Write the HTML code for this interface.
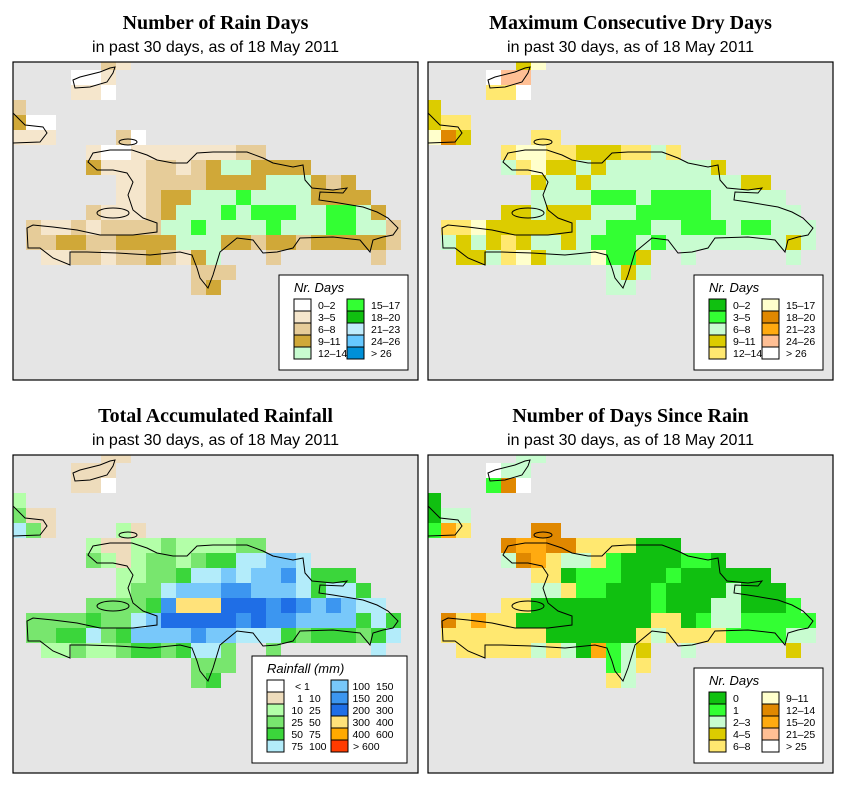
<!DOCTYPE html>
<html><head><meta charset="utf-8"><style>
html,body{margin:0;padding:0;background:#fff;}
svg{display:block;}
.t{font-family:"Liberation Serif",serif;font-weight:bold;font-size:20px;text-anchor:middle;}
.s{font-family:"Liberation Sans",sans-serif;font-size:16px;text-anchor:middle;}
.lt{font-family:"Liberation Sans",sans-serif;font-style:italic;font-size:13px;}
.ll{font-family:"Liberation Sans",sans-serif;font-size:10.5px;}
</style></head><body>
<svg id="chart" width="853" height="793" viewBox="0 0 853 793" xmlns="http://www.w3.org/2000/svg">
<defs>
<path id="coast" fill="none" stroke="#000" stroke-width="1" d="M88,162 L93,153 L110,150 L132,150 L147,155 L157,160 L173,163 L187,163 L197,153 L213,152 L233,152 L247,152 L263,158 L273,163 L293,167 L303,165 L305,180 L312,188 L333,190 L347,188 L343,193 L320,192 L319,200 L333,202 L363,207 L377,212 L388,218 L398,228 L393,235 L383,237 L373,240 L370,252 L360,240 L333,237 L300,238 L293,248 L277,252 L263,253 L253,240 L237,238 L220,252 L213,275 L208,288 L200,278 L197,268 L192,255 L180,252 L150,255 L117,253 L87,252 L70,252 L70,265 L53,258 L40,248 L28,248 L27,228 L33,225 L53,227 L77,230 L100,235 L133,235 L157,232 L157,223 L143,218 L133,210 L128,195 L133,182 L127,173 L113,170 L97,170 Z M97,213 a16,5 0 1,0 32,0 a16,5 0 1,0 -32,0 Z M119,142 a9,3 0 1,0 18,0 a9,3 0 1,0 -18,0 Z M5,113 L13,113 L25,125 L43,127 L47,133 L40,142 L13,143 L5,143 M73,80 L80,77 L100,72 L110,68 L115,67 L113,73 L107,82 L90,87 L75,88 Z"/>
</defs>
</svg>
<script>
// ---- data ----
const rainDays = ["......ba","....wwa","....aaw","b","cww","aaa....bw",".....awwaaaaaaabb",".....caaabbabcddcccc",".......aabbbbccccdddcbc",".......aabccddde"+"dddd"+"cccc",".....baaabcddded"+"eeedd"+"eedc",".baababbbb"+"ddeddddedddeeddb",".bbccbbccccdddccbccbcccccb","..aabbabbcbacd...b......b","............bbb","............bc"];
const dryDays = ["......hj","....wmm","....iiw","h","hii","jkh....ii",".....ijjiihhhiidi",".....dijhhdh"+"ddddddd"+"h",".......hddh"+"dddddddddd"+"hh",".......dddd"+"ggg"+"d"+"gggg"+"ddddd",".....hhdhhhddd"+"ggggg"+"dddddd",".iij"+"hhhhhh"+"dd"+"ggg"+"dd"+"ggg"+"d"+"gg"+"ddd",".dhdhihddhd"+"ggg"+"d"+"g"+"dddddddd"+"hd","..hhdijhdddjggh"+"..d"+"......d","............dhd","............dd"];
const rainfall = ["......TT","....TTT","....TTW","L","MTT","CMT....LT",".....LTTLLMLLLLMM",".....MLTLMMLMGGCCSSC",".......LLMMGCCSCSSBCGGG",".......LMMCSSSBBSSSCGCCG",".....MMMMGBYYYDDDBDBSBSCC",".MMMMGMMCSDDDDDBDBBSSSSGCG",".MMGGCMGSSSSBSSCCCGMGGGMGC","..LLMLLMGGMGCCM..M......C","............MMM","............MG"];
const sinceRain = ["......dd","....wdd","....gkw","f","fdd","gli....kk",".....kllkkiiiifff",".....dklidd"+"ig"+"ffff"+"gg"+"f",".......iif"+"ggg"+"fff"+"g"+"ffffff",".......ddigg"+"fff"+"g"+"ffff"+"d"+"fff",".....ii"+"ffffffff"+"g"+"fff"+"dd"+"fff"+"g",".kilii"+"fffffffff"+"ii"+"f"+"g"+"dd"+"ggggg",".iiiiiii"+"ffffff"+"i"+"d"+"iiii"+"gggg"+"dd","..iiiiididflgdh"+"..d"+"......h","............gdi","............id"];
const rainDaysKeys = ["w","a","b","c","d","e","f","x","y","z"];
const rainDaysLabels = ["0–2","3–5","6–8","9–11","12–14","15–17","18–20","21–23","24–26","> 26"];
const dryKeys = ["f","g","d","h","i","j","k","l","m","w"];
const dryLabels = ["0–2","3–5","6–8","9–11","12–14","15–17","18–20","21–23","24–26","> 26"];
const rainKeys = ["W","T","L","M","G","C","S","B","D","Y","O","R"];
const rainLabels = [["< 1",""],["1","10"],["10","25"],["25","50"],["50","75"],["75","100"],["100","150"],["150","200"],["200","300"],["300","400"],["400","600"],["> 600",""]];
const sinceKeys = ["f","g","d","h","i","j","k","l","m","w"];
const sinceLabels = ["0","1","2–3","4–5","6–8","9–11","12–14","15–20","21–25","> 25"];

const pal1 = {w:"#ffffff",a:"#f5e6cc",b:"#e6cc99",c:"#d0a838",d:"#c8fcd0",e:"#33ff33",f:"#10c010",x:"#c0ecfc",y:"#66c8ff",z:"#0090d8"};
const pal2 = {f:"#10c010",g:"#33ff33",d:"#c8fcd0",h:"#dccc00",i:"#ffe870",j:"#ffffcc",k:"#e08800",l:"#ffaa10",m:"#ffbf94",w:"#ffffff"};
const pal3 = {W:"#ffffff",T:"#eedcbc",L:"#b3ffa8",M:"#78e66e",G:"#3bd63b",C:"#b3ecfa",S:"#78c8fa",B:"#3c96f0",D:"#1f6ee6",Y:"#ffe27a",O:"#ffaa00",R:"#ff3b00"};

const NS="http://www.w3.org/2000/svg";
const svg=document.getElementById('chart');
function mk(tag,attrs,parent){const e=document.createElementNS(NS,tag);for(const k in attrs)e.setAttribute(k,attrs[k]);(parent||svg).appendChild(e);return e;}

const CELL=15;
const panels=[
 {dx:0,dy:0,grid:rainDays,pal:pal1,title:"Number of Rain Days",name:"rain-days"},
 {dx:415,dy:0,grid:dryDays,pal:pal2,title:"Maximum Consecutive Dry Days",name:"dry-days"},
 {dx:0,dy:393,grid:rainfall,pal:pal3,title:"Total Accumulated Rainfall",name:"rainfall"},
 {dx:415,dy:393,grid:sinceRain,pal:pal2,title:"Number of Days Since Rain",name:"days-since-rain"}
];
function colX(p,c){return p.dx+11+CELL*c;}
function rowY(p,r){return p.dy+55+CELL*r;}

panels.forEach((p,i)=>{
  const fx=p.dx+13, fy=p.dy+62, fw=405, fh=318;
  const t=mk('text',{class:'t',x:fx+fw/2,y:p.dy+29});
  t.textContent=p.title;
  
  
  const s=mk('text',{class:'s',x:fx+fw/2,y:p.dy+52});
  s.textContent="in past 30 days, as of  18 May 2011";
  
  
  const cp=mk('clipPath',{id:'cp'+i});
  mk('rect',{x:fx,y:fy,width:fw,height:fh},cp);
  const bg=mk('rect',{x:fx,y:fy,width:fw,height:fh,fill:'#e5e5e5'});
  
  
  const g=mk('g',{'clip-path':'url(#cp'+i+')'});
  
  
  p.grid.forEach((row,r)=>{
    for(let c=0;c<row.length;c++){
      const k=row[c]; if(k==='.'||!p.pal[k]) continue;
      const cell=mk('rect',{x:colX(p,c),y:rowY(p,r),width:CELL,height:CELL,fill:p.pal[k]},g);
      
      
    }
  });
  const u=mk('use',{href:'#coast',transform:'translate('+p.dx+','+p.dy+')'},g);
  
  
  const fr=mk('rect',{x:fx,y:fy,width:fw,height:fh,fill:'none',stroke:'#000','stroke-width':1.2});
  
  
});

function legend(p,keys,labels,pal,title,box,isRain){
  const lg=mk('g',{});
  
  
  mk('rect',{x:box.x,y:box.y,width:box.w,height:box.h,fill:'#fff',stroke:'#000','stroke-width':1},lg);
  const tt=mk('text',{class:'lt',x:box.x+15,y:box.y+17},lg);
  tt.textContent=title;
  
  
  const per=keys.length/2;
  keys.forEach((k,j)=>{
    const col=Math.floor(j/per), row=j%per;
    const sx=box.x+15+col*box.cw, sy=box.y+box.top+row*12;
    const sw=mk('rect',{x:sx,y:sy,width:17,height:12,fill:pal[k],stroke:'#000','stroke-width':1},lg);
    
    
    if(isRain){
      const lab=labels[j];
      if(lab[1]===""){
        const a=mk('text',{class:'ll',x:sx+(col?22:28),y:sy+10},lg);
        a.textContent=lab[0];
        
        
      } else {
        const a=mk('text',{class:'ll',x:sx+(col?39:36),y:sy+10,'text-anchor':'end'},lg);
        a.textContent=lab[0];
        
        
        const b=mk('text',{class:'ll',x:sx+(col?45:42),y:sy+10},lg);
        b.textContent=lab[1];
        
        
      }
    } else {
      const a=mk('text',{class:'ll',x:sx+24,y:sy+10},lg);
      a.textContent=labels[j];
      
      
    }
  });
}
legend(panels[0],rainDaysKeys,rainDaysLabels,pal1,"Nr. Days",{x:279,y:275,w:129,h:95,cw:53,top:24},false);
legend(panels[1],dryKeys,dryLabels,pal2,"Nr. Days",{x:694,y:275,w:129,h:95,cw:53,top:24},false);
legend(panels[2],rainKeys,rainLabels,pal3,"Rainfall (mm)",{x:252,y:656,w:155,h:107,cw:64,top:24},true);
legend(panels[3],sinceKeys,sinceLabels,pal2,"Nr. Days",{x:694,y:668,w:129,h:95,cw:53,top:24},false);
</script>
</body></html>
